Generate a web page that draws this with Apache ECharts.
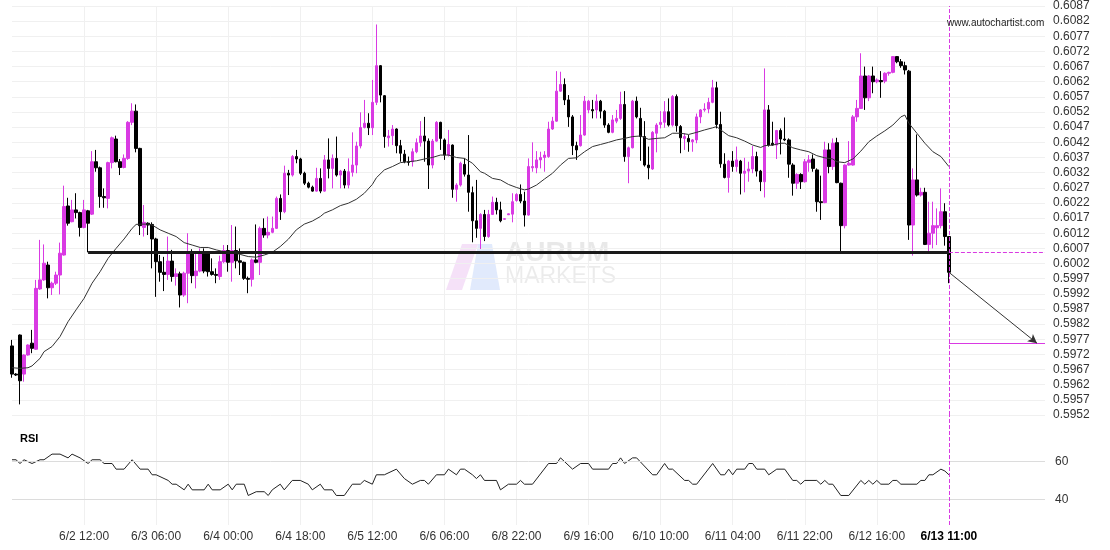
<!DOCTYPE html>
<html><head><meta charset="utf-8">
<script src="https://cdn.jsdelivr.net/npm/echarts@6/dist/echarts.min.js"></script>
<style>html,body{margin:0;padding:0;background:#fff}#c{width:1110px;height:550px}</style>
</head><body><div id="c"></div>
<script>
// [open, close, low, high] per hourly candle
const ohlc = [
[0.59748,0.59655,0.59643,0.59768],[0.59655,0.59652,0.59649,0.59658],[0.59784,0.59633,0.59555,0.59786],[0.59655,0.59718,0.59630,0.59720],
[0.59718,0.59751,0.59716,0.59753],[0.59757,0.59740,0.59724,0.59801],[0.59737,0.59938,0.59735,0.59966],[0.59936,0.59966,0.59933,0.60098],
[0.59966,0.60021,0.59963,0.60083],[0.60015,0.59940,0.59905,0.60026],[0.59940,0.59955,0.59916,0.59960],[0.59955,0.59982,0.59949,0.59993],
[0.59982,0.60054,0.59918,0.60089],[0.60048,0.60208,0.60046,0.60277],[0.60210,0.60153,0.60145,0.60237],[0.60158,0.60197,0.60156,0.60230],
[0.60197,0.60188,0.60169,0.60252],[0.60188,0.60139,0.60109,0.60191],[0.60139,0.60197,0.60136,0.60230],[0.60194,0.60153,0.60057,0.60197],
[0.60183,0.60356,0.60180,0.60391],[0.60356,0.60336,0.60323,0.60395],[0.60336,0.60241,0.60204,0.60340],[0.60241,0.60237,0.60204,0.60268],
[0.60235,0.60353,0.60202,0.60356],[0.60353,0.60435,0.60334,0.60439],[0.60431,0.60356,0.60354,0.60442],[0.60356,0.60337,0.60312,0.60365],
[0.60337,0.60367,0.60334,0.60380],[0.60367,0.60486,0.60362,0.60490],[0.60486,0.60523,0.60477,0.60549],[0.60523,0.60400,0.60387,0.60545],
[0.60400,0.60145,0.60114,0.60402],[0.60139,0.60156,0.60109,0.60213],[0.60153,0.60147,0.60114,0.60156],[0.60149,0.60101,0.60004,0.60156],
[0.60101,0.60026,0.59910,0.60105],[0.60026,0.59991,0.59960,0.60048],[0.59991,0.59984,0.59929,0.60042],[0.59984,0.60028,0.59966,0.60109],
[0.60028,0.59977,0.59960,0.60065],[0.59977,0.59986,0.59947,0.60004],[0.59986,0.59916,0.59875,0.59993],[0.59916,0.59988,0.59910,0.59993],
[0.59988,0.60054,0.59889,0.60120],[0.60054,0.59980,0.59955,0.60067],[0.59980,0.59995,0.59938,0.60054],[0.59995,0.60054,0.59991,0.60070],
[0.60054,0.59995,0.59988,0.60070],[0.60052,0.59993,0.59977,0.60057],[0.59993,0.59984,0.59980,0.60037],[0.59984,0.59981,0.59955,0.60004],
[0.59977,0.60026,0.59966,0.60046],[0.60026,0.60063,0.60021,0.60081],[0.60063,0.60024,0.59993,0.60081],[0.60024,0.60063,0.59960,0.60147],
[0.60063,0.60029,0.60004,0.60142],[0.60029,0.60024,0.59982,0.60070],[0.60024,0.59971,0.59966,0.60026],[0.59971,0.59968,0.59922,0.59977],
[0.59968,0.60032,0.59944,0.60037],[0.60032,0.60024,0.60021,0.60149],[0.60024,0.60136,0.59982,0.60142],[0.60136,0.60114,0.60105,0.60169],
[0.60114,0.60123,0.60103,0.60175],[0.60123,0.60136,0.60120,0.60175],[0.60136,0.60235,0.60134,0.60241],[0.60235,0.60191,0.60164,0.60248],
[0.60191,0.60318,0.60186,0.60343],[0.60318,0.60312,0.60246,0.60329],[0.60312,0.60373,0.60307,0.60378],[0.60373,0.60365,0.60351,0.60395],
[0.60365,0.60318,0.60312,0.60369],[0.60318,0.60285,0.60279,0.60323],[0.60285,0.60272,0.60268,0.60290],[0.60272,0.60259,0.60257,0.60277],
[0.60259,0.60301,0.60257,0.60336],[0.60301,0.60259,0.60252,0.60334],[0.60259,0.60362,0.60257,0.60378],[0.60362,0.60334,0.60301,0.60433],
[0.60334,0.60367,0.60268,0.60380],[0.60367,0.60312,0.60307,0.60439],[0.60312,0.60325,0.60268,0.60329],[0.60325,0.60279,0.60268,0.60332],
[0.60279,0.60323,0.60268,0.60367],[0.60321,0.60345,0.60307,0.60453],[0.60345,0.60408,0.60318,0.60422],[0.60408,0.60469,0.60400,0.60519],
[0.60469,0.60483,0.60466,0.60560],[0.60483,0.60468,0.60444,0.60516],[0.60468,0.60552,0.60444,0.60626],[0.60552,0.60673,0.60543,0.60809],
[0.60673,0.60576,0.60552,0.60675],[0.60574,0.60439,0.60402,0.60576],[0.60435,0.60441,0.60406,0.60461],[0.60442,0.60464,0.60411,0.60477],
[0.60464,0.60409,0.60384,0.60466],[0.60409,0.60384,0.60356,0.60428],[0.60381,0.60356,0.60351,0.60395],[0.60356,0.60354,0.60343,0.60373],
[0.60356,0.60389,0.60340,0.60400],[0.60389,0.60419,0.60384,0.60433],[0.60419,0.60441,0.60406,0.60490],[0.60441,0.60424,0.60356,0.60504],
[0.60424,0.60345,0.60266,0.60433],[0.60345,0.60424,0.60334,0.60431],[0.60424,0.60486,0.60422,0.60490],[0.60486,0.60433,0.60395,0.60488],
[0.60428,0.60378,0.60362,0.60433],[0.60378,0.60413,0.60373,0.60461],[0.60411,0.60265,0.60237,0.60413],[0.60265,0.60279,0.60224,0.60285],
[0.60279,0.60351,0.60274,0.60356],[0.60347,0.60315,0.60307,0.60367],[0.60312,0.60255,0.60191,0.60444],[0.60254,0.60161,0.60090,0.60274],
[0.60161,0.60136,0.60105,0.60296],[0.60136,0.60182,0.60068,0.60186],[0.60182,0.60109,0.60094,0.60197],[0.60109,0.60182,0.60105,0.60197],
[0.60182,0.60222,0.60180,0.60241],[0.60222,0.60197,0.60182,0.60237],[0.60197,0.60161,0.60156,0.60224],[0.60166,0.60168,0.60165,0.60169],
[0.60181,0.60184,0.60180,0.60185],[0.60183,0.60224,0.60156,0.60252],[0.60228,0.60248,0.60224,0.60252],[0.60248,0.60226,0.60219,0.60281],
[0.60226,0.60180,0.60142,0.60257],[0.60180,0.60340,0.60178,0.60367],[0.60336,0.60340,0.60323,0.60420],[0.60336,0.60362,0.60318,0.60391],
[0.60362,0.60370,0.60334,0.60389],[0.60370,0.60378,0.60323,0.60391],[0.60373,0.60464,0.60369,0.60488],[0.60464,0.60490,0.60461,0.60504],
[0.60490,0.60589,0.60488,0.60655],[0.60589,0.60611,0.60587,0.60653],[0.60611,0.60560,0.60543,0.60631],[0.60560,0.60504,0.60471,0.60576],
[0.60504,0.60409,0.60378,0.60510],[0.60409,0.60395,0.60362,0.60422],[0.60409,0.60444,0.60406,0.60510],[0.60444,0.60556,0.60442,0.60573],
[0.60527,0.60556,0.60516,0.60560],[0.60528,0.60524,0.60499,0.60560],[0.60527,0.60556,0.60499,0.60578],[0.60556,0.60523,0.60499,0.60560],
[0.60523,0.60477,0.60468,0.60527],[0.60477,0.60453,0.60450,0.60483],[0.60453,0.60494,0.60450,0.60510],[0.60490,0.60499,0.60483,0.60527],
[0.60499,0.60545,0.60494,0.60587],[0.60545,0.60373,0.60356,0.60589],[0.60373,0.60402,0.60285,0.60406],[0.60402,0.60556,0.60400,0.60560],
[0.60556,0.60504,0.60499,0.60571],[0.60499,0.60439,0.60359,0.60534],[0.60439,0.60345,0.60340,0.60490],[0.60345,0.60336,0.60298,0.60406],
[0.60332,0.60453,0.60329,0.60457],[0.60450,0.60477,0.60387,0.60483],[0.60479,0.60486,0.60466,0.60523],[0.60486,0.60521,0.60468,0.60556],
[0.60521,0.60477,0.60472,0.60565],[0.60477,0.60571,0.60472,0.60576],[0.60571,0.60475,0.60455,0.60578],[0.60472,0.60435,0.60384,0.60477],
[0.60433,0.60439,0.60395,0.60450],[0.60433,0.60422,0.60389,0.60444],[0.60422,0.60428,0.60389,0.60431],[0.60428,0.60504,0.60417,0.60515],
[0.60504,0.60527,0.60483,0.60530],[0.60527,0.60530,0.60521,0.60549],[0.60530,0.60552,0.60516,0.60567],[0.60552,0.60600,0.60549,0.60626],
[0.60600,0.60479,0.60466,0.60620],[0.60479,0.60349,0.60336,0.60521],[0.60348,0.60304,0.60301,0.60384],[0.60304,0.60358,0.60254,0.60362],
[0.60358,0.60340,0.60323,0.60391],[0.60340,0.60362,0.60323,0.60406],[0.60358,0.60318,0.60248,0.60362],[0.60318,0.60325,0.60255,0.60369],
[0.60325,0.60332,0.60290,0.60356],[0.60332,0.60373,0.60318,0.60408],[0.60373,0.60325,0.60307,0.60389],[0.60325,0.60290,0.60259,0.60329],
[0.60290,0.60527,0.60238,0.60664],[0.60527,0.60411,0.60406,0.60543],[0.60417,0.60411,0.60409,0.60488],[0.60411,0.60459,0.60365,0.60461],
[0.60459,0.60431,0.60380,0.60466],[0.60431,0.60428,0.60424,0.60502],[0.60428,0.60348,0.60303,0.60433],[0.60345,0.60285,0.60244,0.60351],
[0.60285,0.60314,0.60266,0.60318],[0.60314,0.60290,0.60266,0.60318],[0.60290,0.60356,0.60287,0.60365],[0.60354,0.60362,0.60323,0.60378],
[0.60365,0.60334,0.60323,0.60380],[0.60329,0.60224,0.60191,0.60334],[0.60224,0.60221,0.60164,0.60310],[0.60221,0.60395,0.60219,0.60422],
[0.60395,0.60340,0.60318,0.60417],[0.60340,0.60417,0.60329,0.60433],[0.60419,0.60287,0.60285,0.60435],[0.60285,0.60145,0.60057,0.60287],
[0.60145,0.60345,0.60136,0.60347],[0.60345,0.60351,0.60343,0.60424],[0.60345,0.60504,0.60343,0.60510],[0.60504,0.60532,0.60488,0.60560],
[0.60532,0.60639,0.60530,0.60714],[0.60639,0.60567,0.60527,0.60670],[0.60567,0.60639,0.60556,0.60642],[0.60639,0.60620,0.60582,0.60670],
[0.60620,0.60626,0.60615,0.60631],[0.60624,0.60620,0.60567,0.60655],[0.60622,0.60648,0.60615,0.60651],[0.60648,0.60651,0.60640,0.60653],
[0.60651,0.60703,0.60648,0.60705],[0.60703,0.60686,0.60681,0.60705],[0.60686,0.60673,0.60666,0.60695],[0.60673,0.60659,0.60644,0.60686],
[0.60655,0.60147,0.60098,0.60659],[0.60147,0.60296,0.60046,0.60334],[0.60296,0.60246,0.60241,0.60446],[0.60246,0.60255,0.60241,0.60270],
[0.60255,0.60083,0.60081,0.60270],[0.60083,0.60120,0.60057,0.60224],[0.60120,0.60145,0.60070,0.60224],[0.60138,0.60145,0.60081,0.60202],
[0.60145,0.60191,0.60136,0.60268],[0.60191,0.60109,0.60079,0.60219],[0.60109,0.59991,0.59955,0.60109]
];

// moving average readings [candle index, value]
const maPoints = [[0,0.59676],[2,0.59674],[4,0.59676],[5,0.59682],[7,0.59707],[8,0.59729],[10,0.59746],[12,0.59779],[14,0.59828],[16,0.59867],[18,0.59905],[20,0.59955],[22,0.59993],[24,0.60037],[26,0.60070],[28,0.60101],[30,0.60136],[31,0.60149],[32,0.60150],[34,0.60150],[35,0.60147],[37,0.60131],[39,0.60120],[41,0.60109],[43,0.60089],[45,0.60081],[47,0.60073],[49,0.60073],[51,0.60065],[53,0.60059],[55,0.60057],[57,0.60050],[59,0.60043],[61,0.60041],[63,0.60048],[65,0.60057],[67,0.60076],[69,0.60100],[71,0.60131],[73,0.60150],[75,0.60160],[77,0.60175],[78,0.60186],[80,0.60197],[82,0.60211],[84,0.60219],[86,0.60232],[88,0.60252],[90,0.60281],[91,0.60303],[93,0.60329],[95,0.60340],[97,0.60353],[99,0.60356],[101,0.60359],[103,0.60365],[105,0.60370],[107,0.60378],[109,0.60378],[111,0.60370],[113,0.60367],[115,0.60351],[117,0.60323],[118,0.60318],[120,0.60301],[122,0.60296],[124,0.60281],[126,0.60271],[128,0.60263],[129,0.60266],[131,0.60279],[133,0.60299],[135,0.60318],[137,0.60345],[139,0.60367],[141,0.60369],[143,0.60389],[145,0.60406],[147,0.60413],[149,0.60420],[151,0.60428],[153,0.60433],[155,0.60439],[157,0.60441],[159,0.60430],[161,0.60433],[163,0.60435],[165,0.60450],[167,0.60450],[169,0.60446],[171,0.60453],[173,0.60461],[175,0.60468],[176,0.60472],[177,0.60461],[179,0.60442],[181,0.60435],[183,0.60424],[185,0.60411],[187,0.60403],[188,0.60409],[190,0.60411],[192,0.60417],[193,0.60417],[195,0.60402],[197,0.60395],[199,0.60389],[201,0.60376],[203,0.60369],[205,0.60365],[206,0.60356],[208,0.60353],[210,0.60365],[212,0.60391],[214,0.60422],[216,0.60441],[218,0.60458],[220,0.60477],[222,0.60504],[223,0.60510],[224,0.60483],[226,0.60450],[228,0.60417],[230,0.60389],[232,0.60373],[234,0.60340]];

// RSI readings [candle index, value]
const rsiPoints = [[0,61],[1,61],[2,59],[3,61],[5,59],[7,61],[8,61],[10,64],[12,64],[14,62],[15,64],[17,62],[19,59],[20,61],[22,61],[23,59],[25,59],[26,56],[28,56],[30,61],[32,56],[34,56],[35,53],[36,53],[39,50],[40,48],[41,48],[43,45],[44,48],[45,45],[48,45],[49,48],[50,45],[52,45],[54,48],[55,45],[56,48],[58,48],[59,42],[61,44],[63,44],[64,42],[65,45],[67,48],[68,45],[70,50],[72,50],[74,48],[75,45],[77,48],[78,45],[80,45],[81,42],[83,42],[85,48],[87,48],[88,50],[90,48],[91,53],[93,53],[96,56],[98,51],[100,48],[102,50],[103,50],[104,48],[106,53],[108,53],[109,56],[111,53],[112,56],[113,56],[115,53],[116,51],[117,53],[118,50],[121,50],[122,45],[124,48],[126,48],[127,50],[128,48],[130,48],[134,59],[136,59],[137,62],[140,56],[142,59],[144,59],[145,56],[149,56],[150,59],[151,59],[152,62],[153,59],[155,62],[156,62],[160,53],[161,53],[163,59],[164,56],[165,56],[168,50],[169,50],[170,48],[171,48],[175,59],[177,53],[178,53],[179,56],[180,53],[181,56],[183,56],[184,59],[185,59],[186,56],[188,56],[189,53],[191,56],[193,56],[195,50],[196,50],[197,48],[198,50],[201,50],[202,48],[203,50],[204,48],[205,48],[207,42],[209,42],[212,50],[213,48],[214,50],[215,48],[216,50],[217,48],[219,48],[220,50],[221,50],[222,48],[226,48],[227,50],[228,50],[229,53],[230,53],[232,56],[233,55],[234,53]];

const tickLabels = {18:'6/2 12:00',36:'6/3 06:00',54:'6/4 00:00',72:'6/4 18:00',90:'6/5 12:00',108:'6/6 06:00',126:'6/8 22:00',144:'6/9 16:00',162:'6/10 10:00',180:'6/11 04:00',198:'6/11 22:00',216:'6/12 16:00',234:'6/13 11:00'};
const lastIndex = 234;
const supportStart = 19;
const supportLevel = 0.60057;
const targetLevel = 0.59757;
const arrowStart = [234, 0.59991];
const arrowEnd = [256, 0.59757];
const rsiLevels = [60, 40];
const slotCount = 259;
const categories = Array.from({length: slotCount}, (_, i) => String(i));

const PINK = '#d93ae3';
const FONT = '"Liberation Sans", Arial, sans-serif';
const GRID_LINE = '#f0f0f0';

const chart = echarts.init(document.getElementById('c'), null, {renderer: 'canvas'});
const isGridTick = (i) => tickLabels[i] !== undefined && i !== lastIndex;

chart.setOption({
  animation: false,
  backgroundColor: '#fff',
  textStyle: {fontFamily: FONT},
  title: [
    {text: 'RSI', left: 15, top: 428, textStyle: {fontSize: 11, fontWeight: 'bold', color: '#000', fontFamily: FONT}},
    {text: 'www.autochartist.com', left: 942, top: 13, textStyle: {fontSize: 10, fontWeight: 'normal', color: '#222', fontFamily: FONT}}
  ],
  graphic: [
    {type: 'polygon', z: 0, silent: true, shape: {points: [[462,244],[478,244],[462,290],[446,290]]}, style: {fill: 'rgba(225,170,235,0.35)'}},
    {type: 'polygon', z: 0, silent: true, shape: {points: [[478,244],[492,244],[500,290],[470,290]]}, style: {fill: 'rgba(170,195,245,0.35)'}},
    {type: 'text', z: 0, silent: true, left: 505, top: 239, style: {text: 'AURUM', fontSize: 28, fontWeight: 'bold', fill: 'rgba(0,0,0,0.09)', fontFamily: FONT}},
    {type: 'text', z: 0, silent: true, left: 505, top: 265, style: {text: 'MARKETS', fontSize: 23, fontWeight: 'normal', fill: 'rgba(0,0,0,0.08)', fontFamily: FONT}}
  ],
  grid: [
    {left: 12, right: 65, top: 6, height: 409},
    {left: 12, right: 65, top: 415, height: 110}
  ],
  xAxis: [
    {type: 'category', gridIndex: 0, data: categories, boundaryGap: false,
     axisLine: {show: false}, axisTick: {show: false}, axisLabel: {show: false},
     splitLine: {show: true, interval: (i) => isGridTick(i), lineStyle: {color: GRID_LINE, width: 1}}},
    {type: 'category', gridIndex: 1, data: categories, boundaryGap: false,
     axisLine: {show: false}, axisTick: {show: false},
     axisLabel: {show: true, interval: (i) => tickLabels[i] !== undefined, margin: 6, color: '#333', fontSize: 12, fontFamily: FONT,
       formatter: (v) => { const i = Number(v); return i === lastIndex ? '{b|' + tickLabels[i] + '}' : tickLabels[i]; },
       rich: {b: {fontWeight: 'bold', color: '#000', fontSize: 12, fontFamily: FONT}}},
     splitLine: {show: true, interval: (i) => isGridTick(i), lineStyle: {color: GRID_LINE, width: 1}}}
  ],
  yAxis: [
    {type: 'value', gridIndex: 0, position: 'right', min: 0.5952, max: 0.6087, interval: 0.0005,
     axisLine: {show: false}, axisTick: {show: false},
     axisLabel: {formatter: (v) => v.toFixed(4), color: '#333', fontSize: 12, margin: 8, fontFamily: FONT},
     splitLine: {lineStyle: {color: GRID_LINE, width: 1}}},
    {type: 'value', gridIndex: 1, position: 'right', min: 26.3, max: 84.8,
     axisLine: {show: false}, axisTick: {show: false}, axisLabel: {show: false}, splitLine: {show: false}}
  ],
  series: [
    {
      type: 'candlestick', xAxisIndex: 0, yAxisIndex: 0, data: ohlc, barWidth: 3, clip: false,
      itemStyle: {color: PINK, color0: '#000', borderColor: PINK, borderColor0: '#000', borderWidth: 1},
      markLine: {
        silent: true, symbol: 'none', label: {show: false}, animation: false,
        data: [
          [{coord: [supportStart, supportLevel], lineStyle: {color: '#1a1a1a', width: 3, type: 'solid'}}, {coord: [lastIndex, supportLevel]}],
          [{coord: [lastIndex, supportLevel], lineStyle: {color: PINK, width: 1, type: 'dashed'}}, {coord: [slotCount - 1, supportLevel]}],
          [{coord: [lastIndex, targetLevel], lineStyle: {color: PINK, width: 1, type: 'solid'}}, {coord: [slotCount - 1, targetLevel]}],
          [{coord: arrowStart, symbol: 'none', lineStyle: {color: '#333', width: 1, type: 'solid'}}, {coord: arrowEnd, symbol: 'arrow', symbolSize: [7, 9]}],
          {xAxis: lastIndex, lineStyle: {color: PINK, width: 1, type: 'dashed'}}
        ]
      }
    },
    {
      type: 'line', xAxisIndex: 0, yAxisIndex: 0, data: maPoints, symbol: 'none', smooth: false,
      lineStyle: {color: '#333', width: 1}, z: 3
    },
    {
      type: 'line', xAxisIndex: 1, yAxisIndex: 1, data: rsiPoints, symbol: 'none', smooth: false,
      lineStyle: {color: '#222', width: 1},
      markLine: {
        silent: true, symbol: 'none', animation: false,
        data: [
          {yAxis: rsiLevels[0], lineStyle: {color: '#dcdcdc', width: 1, type: 'solid'}, label: {show: true, position: 'end', formatter: String(rsiLevels[0]), color: '#333', fontSize: 12, distance: 10}},
          {yAxis: rsiLevels[1], lineStyle: {color: '#dcdcdc', width: 1, type: 'solid'}, label: {show: true, position: 'end', formatter: String(rsiLevels[1]), color: '#333', fontSize: 12, distance: 10}},
          {xAxis: lastIndex, lineStyle: {color: PINK, width: 1, type: 'dashed'}, label: {show: false}}
        ]
      }
    }
  ]
});
</script>
</body></html>
